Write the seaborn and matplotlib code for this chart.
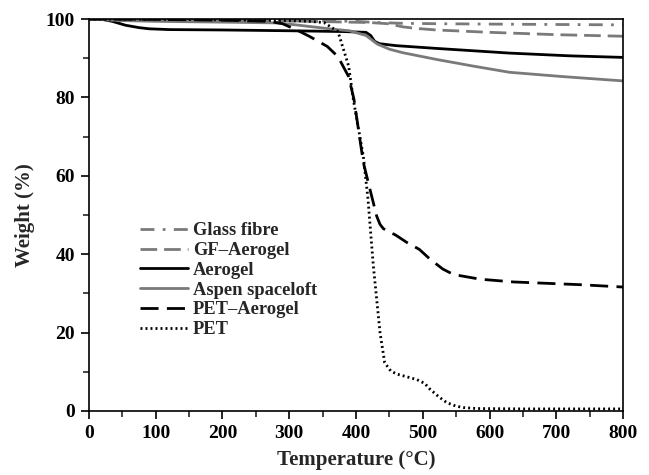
import numpy as np
import pandas as pd
import matplotlib
matplotlib.use("Agg")
import matplotlib.pyplot as plt
import seaborn as sns
from matplotlib.ticker import MultipleLocator

sns.set_theme(style="white")
plt.rcParams['font.family'] = ['Liberation Serif', 'DejaVu Serif']
plt.rcParams['font.weight'] = 'bold'

# ---- data ----
gf_T = [0, 50, 100, 200, 300, 350, 400, 430, 470, 520, 600, 700, 800]
gf_W = [100, 99.8, 99.7, 99.6, 99.5, 99.5, 99.4, 99.1, 98.9, 98.8, 98.7, 98.6, 98.5]

gfa_T = [0, 50, 100, 200, 300, 360, 420, 448, 470, 490, 520, 600, 700, 800]
gfa_W = [100, 99.8, 99.7, 99.6, 99.5, 99.3, 99.1, 98.8, 98.0, 97.6, 97.2, 96.6, 96.0, 95.6]

aer_T = [0, 20, 35, 55, 75, 90, 120, 200, 300, 380, 415, 422, 428, 435, 460, 520, 630, 720, 800]
aer_W = [100, 99.9, 99.4, 98.4, 97.8, 97.5, 97.3, 97.2, 97.0, 96.8, 96.6, 95.8, 94.3, 93.7, 93.2, 92.5, 91.3, 90.6, 90.2]

asp_T = [0, 50, 100, 200, 280, 310, 340, 365, 390, 415, 432, 450, 470, 520, 575, 630, 710, 800]
asp_W = [100, 99.6, 99.4, 99.2, 99.0, 98.5, 97.9, 97.4, 97.0, 95.8, 93.6, 92.3, 91.4, 89.7, 88.0, 86.4, 85.3, 84.2]

peta_T = [0, 100, 200, 270, 290, 310, 330, 357, 373, 389, 397, 411, 421, 431, 436, 441, 460, 476, 495, 511, 530, 546, 586, 636, 736, 800]
peta_W = [100, 99.9, 99.7, 99.4, 98.8, 97.3, 95.6, 93.0, 90.4, 85.3, 79.5, 63.4, 56.5, 49.7, 47.6, 46.5, 44.8, 43.0, 41.2, 38.7, 36.2, 34.8, 33.6, 32.9, 32.2, 31.6]

pet_T = [0, 100, 200, 300, 330, 352, 373, 389, 396, 411, 418, 426, 436, 443, 452, 461, 476, 491, 503, 511, 524, 536, 550, 561, 580, 650, 800]
pet_W = [100, 99.9, 99.8, 99.6, 99.4, 99.1, 96.8, 88.0, 79.5, 65.0, 54.0, 37.0, 20.0, 12.3, 10.2, 9.4, 8.7, 8.0, 7.0, 5.5, 3.6, 2.1, 1.2, 0.85, 0.6, 0.5, 0.5]

names = ["Glass fibre", "GF\u2013Aerogel", "Aerogel", "Aspen spaceloft", "PET\u2013Aerogel", "PET"]
series = [(gf_T, gf_W), (gfa_T, gfa_W), (aer_T, aer_W), (asp_T, asp_W), (peta_T, peta_W), (pet_T, pet_W)]

gray = "#7a7a7a"
styles = [
    dict(color=gray, dashes=(5, 3, 1, 3)),
    dict(color=gray, dashes=(6, 2.5)),
    dict(color="black", dashes=None),
    dict(color=gray, dashes=None),
    dict(color="black", dashes=(6.5, 3)),
    dict(color="black", dashes=(0.7, 1.1)),
]

fig = plt.figure(figsize=(6.49, 4.75), dpi=100)
ax = fig.add_axes([0.137, 0.135, 0.823, 0.825])

for name, (T, W), st in zip(names, series, styles):
    df = pd.DataFrame({"T": T, "W": W})
    sns.lineplot(data=df, x="T", y="W", ax=ax, color=st["color"], lw=2.0, label=name)
    line = ax.get_lines()[-1]
    if st["dashes"] is not None:
        line.set_dashes(st["dashes"])

ax.set_xlim(0, 800)
ax.set_ylim(0, 100)
ax.xaxis.set_major_locator(MultipleLocator(100))
ax.xaxis.set_minor_locator(MultipleLocator(50))
ax.yaxis.set_major_locator(MultipleLocator(20))
ax.yaxis.set_minor_locator(MultipleLocator(10))
ax.tick_params(axis="both", which="major", direction="out", length=6, width=1.2,
               labelsize=14, bottom=True, left=True, colors="black", pad=4)
ax.tick_params(axis="both", which="minor", direction="out", length=4, width=1.2,
               bottom=True, left=True)
for lab in ax.get_xticklabels() + ax.get_yticklabels():
    lab.set_fontweight("bold")
for sp in ax.spines.values():
    sp.set_color("black")
    sp.set_linewidth(1.2)
    sp.set_visible(True)

ax.set_xlabel("Temperature (\u00b0C)", fontsize=15, fontweight="bold", labelpad=6)
ax.set_ylabel("Weight (%)", fontsize=15, fontweight="bold", labelpad=8)

leg = ax.legend(loc="upper left", bbox_to_anchor=(0.082, 0.50), frameon=False,
                prop={"family": "Liberation Serif", "weight": "bold", "size": 13.3},
                handlelength=2.6, handletextpad=0.25, labelspacing=0.15, borderaxespad=0)
for h in leg.get_lines():
    h.set_linewidth(2.0)

fig.savefig("out.png", dpi=100)
